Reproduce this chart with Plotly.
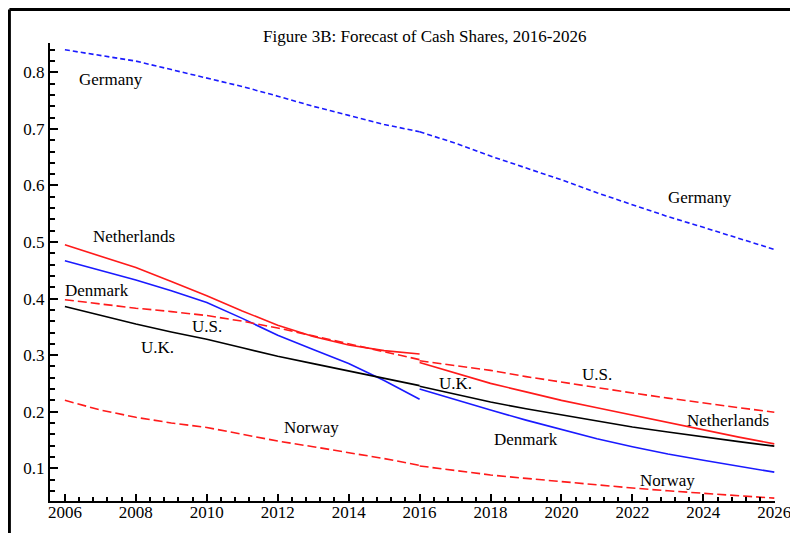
import plotly.graph_objects as go

years_hist = list(range(2006, 2017))
years_fcst = list(range(2016, 2027))

germany_hist = [0.84, 0.83, 0.82, 0.805, 0.79, 0.775, 0.758, 0.74, 0.724, 0.708, 0.695]
germany_fcst = [0.695, 0.675, 0.652, 0.631, 0.61, 0.587, 0.566, 0.545, 0.526, 0.506, 0.487]
netherlands_hist = [0.495, 0.475, 0.455, 0.43, 0.405, 0.378, 0.353, 0.333, 0.318, 0.308, 0.302]
netherlands_fcst = [0.287, 0.268, 0.25, 0.235, 0.22, 0.207, 0.194, 0.18, 0.167, 0.155, 0.143]
denmark_hist = [0.467, 0.45, 0.433, 0.414, 0.393, 0.365, 0.335, 0.31, 0.285, 0.255, 0.222]
denmark_fcst = [0.24, 0.221, 0.203, 0.185, 0.168, 0.152, 0.138, 0.125, 0.114, 0.103, 0.093]
us_hist = [0.398, 0.39, 0.383, 0.377, 0.37, 0.36, 0.348, 0.334, 0.32, 0.305, 0.292]
us_fcst = [0.29, 0.282, 0.273, 0.262, 0.252, 0.242, 0.233, 0.224, 0.215, 0.207, 0.199]
uk_hist = [0.386, 0.37, 0.355, 0.341, 0.328, 0.313, 0.298, 0.285, 0.272, 0.259, 0.246]
uk_fcst = [0.245, 0.231, 0.217, 0.205, 0.194, 0.183, 0.173, 0.164, 0.155, 0.147, 0.139]
norway_hist = [0.22, 0.203, 0.19, 0.18, 0.172, 0.16, 0.148, 0.138, 0.128, 0.117, 0.105]
norway_fcst = [0.104, 0.096, 0.088, 0.082, 0.076, 0.07, 0.065, 0.06, 0.056, 0.051, 0.047]

# label text, year, value
labels = [
    ("Germany", 2007.3, 0.788), ("Germany", 2023.9, 0.579),
    ("Netherlands", 2007.95, 0.51), ("Netherlands", 2024.7, 0.185),
    ("Denmark", 2006.9, 0.415), ("Denmark", 2019.0, 0.15),
    ("U.S.", 2010.0, 0.35), ("U.S.", 2021.0, 0.265),
    ("U.K.", 2008.6, 0.314), ("U.K.", 2017.0, 0.25),
    ("Norway", 2012.95, 0.172), ("Norway", 2023.0, 0.079),
]

blue = "#1a1aff"
red = "#ff1a1a"
series = [
    (germany_hist, germany_fcst, blue, "5px,3px"),
    (netherlands_hist, netherlands_fcst, red, "solid"),
    (denmark_hist, denmark_fcst, blue, "solid"),
    (us_hist, us_fcst, red, "9px,4px"),
    (uk_hist, uk_fcst, "black", "solid"),
    (norway_hist, norway_fcst, red, "9px,4px"),
]

fig = go.Figure()
for hist, fcst, col, dash in series:
    for xs, ys in ((years_hist, hist), (years_fcst, fcst)):
        fig.add_trace(go.Scatter(x=xs, y=ys, mode="lines", showlegend=False,
                                 line=dict(color=col, width=1.6, dash=dash)))

txt_font = dict(family="Liberation Serif", size=17, color="black")
for txt, xv, yv in labels:
    fig.add_annotation(x=xv, y=yv, text=txt, showarrow=False, font=txt_font)

fig.add_annotation(x=0.517, y=1.039, xref="paper", yref="paper", showarrow=False,
                   text="Figure 3B: Forecast of Cash Shares, 2016-2026", font=txt_font)

# outer frame (only top and left visible)
fig.add_shape(type="line", xref="paper", yref="paper", x0=-0.056, x1=-0.056, y0=-0.1, y1=1.073,
              line=dict(color="black", width=3))
fig.add_shape(type="line", xref="paper", yref="paper", x0=-0.056, x1=1.06, y0=1.073, y1=1.073,
              line=dict(color="black", width=3))

axis_font = dict(family="Liberation Serif", size=17, color="black")
fig.update_xaxes(range=[2005.58, 2026.02], tickvals=list(range(2006, 2027, 2)),
                 ticks="inside", ticklen=7, tickwidth=2, tickcolor="black", ticklabelstandoff=-5,
                 minor=dict(ticks="inside", ticklen=4, tickwidth=1.5, dtick=0.4, tick0=2006, tickcolor="black"),
                 showline=True, linecolor="black", linewidth=2, showgrid=False, zeroline=False,
                 tickfont=axis_font)
fig.update_yaxes(range=[0.042, 0.852], tickvals=[0.1, 0.2, 0.3, 0.4, 0.5, 0.6, 0.7, 0.8],
                 ticks="inside", ticklen=8, tickwidth=2, tickcolor="black",
                 minor=dict(ticks="inside", ticklen=5, tickwidth=1.5, dtick=0.02, tick0=0.0, tickcolor="black"),
                 showline=True, linecolor="black", linewidth=2, showgrid=False, zeroline=False,
                 tickfont=axis_font)

fig.update_layout(width=798, height=533, margin=dict(l=42, r=31, t=35, b=40),
                  plot_bgcolor="white", paper_bgcolor="white")
fig.write_html("out.html")
